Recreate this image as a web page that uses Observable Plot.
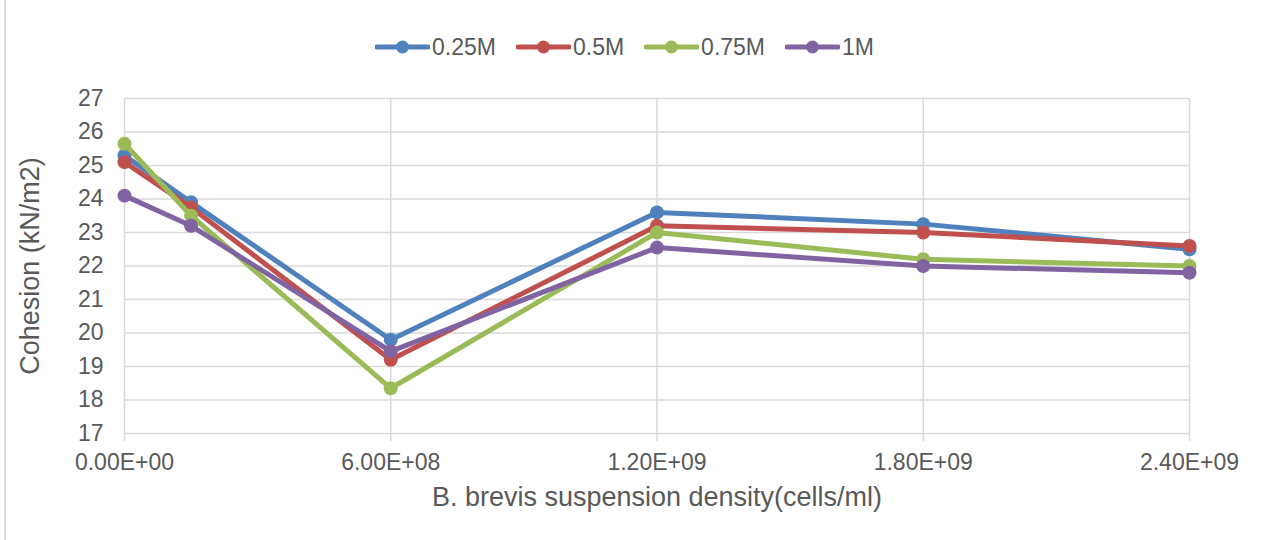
<!DOCTYPE html>
<html>
<head>
<meta charset="utf-8">
<script src="https://cdn.jsdelivr.net/npm/d3@7"></script>
<script src="https://cdn.jsdelivr.net/npm/@observablehq/plot@0.6"></script>
<style>
  body { margin: 0; background: #fff; font-family: "Liberation Sans", Arial, sans-serif; }
  #wrap { position: relative; width: 1261px; height: 540px; overflow: hidden; }
  #frame { position: absolute; left: 4px; top: 0; width: 2px; height: 540px; background: #d9d9d9; }
  #legend { height: 80px; display: flex; justify-content: center; align-items: center; gap: 20px; padding-top: 14px; padding-right: 12px; box-sizing: border-box; }
  .item { display: flex; align-items: center; gap: 2px; font-size: 23px; color: #595959; }
  #chart svg { display: block; overflow: visible; }
</style>
</head>
<body>
<div id="wrap">
  <div id="frame"></div>
  <div id="legend"></div>
  <div id="chart"></div>
</div>
<script>
const xValues = [0, 1.5e8, 6e8, 1.2e9, 1.8e9, 2.4e9];
const seriesNames = ["0.25M", "0.5M", "0.75M", "1M"];
const seriesColors = ["#4f81bd", "#c0504d", "#9bbb59", "#8064a2"];
const cohesion025 = [25.3, 23.9, 19.8, 23.6, 23.25, 22.5];
const cohesion05 = [25.1, 23.75, 19.2, 23.2, 23.0, 22.6];
const cohesion075 = [25.65, 23.5, 18.35, 23.0, 22.2, 22.0];
const cohesion1 = [24.1, 23.2, 19.45, 22.55, 22.0, 21.8];
const xTicks = [0, 6e8, 1.2e9, 1.8e9, 2.4e9];
const xTickLabels = ["0.00E+00", "6.00E+08", "1.20E+09", "1.80E+09", "2.40E+09"];
const yTicks = [17, 18, 19, 20, 21, 22, 23, 24, 25, 26, 27];
const xTitle = "B. brevis suspension density(cells/ml)";
const yTitle = "Cohesion (kN/m2)";

const allSeries = [cohesion025, cohesion05, cohesion075, cohesion1];
const data = [];
allSeries.forEach((vals, i) => vals.forEach((v, j) => data.push({series: seriesNames[i], x: xValues[j], y: v})));

// legend
const legend = document.getElementById("legend");
seriesNames.forEach((name, i) => {
  const item = document.createElement("div");
  item.className = "item";
  item.innerHTML = `<svg width="55" height="16"><line x1="2" y1="8" x2="53" y2="8" stroke="${seriesColors[i]}" stroke-width="5" stroke-linecap="round"/><circle cx="27.5" cy="8" r="6.5" fill="${seriesColors[i]}"/></svg><span>${name}</span>`;
  legend.appendChild(item);
});

const marks = [
  Plot.gridY(yTicks, {stroke: "#d9d9d9", strokeOpacity: 1, strokeWidth: 1.5}),
  Plot.gridX(xTicks, {stroke: "#d9d9d9", strokeOpacity: 1, strokeWidth: 1.5}),
  Plot.axisX(xTicks, {tickFormat: (d) => xTickLabels[xTicks.indexOf(d)], tickSize: 8, tickPadding: 12, stroke: "#d9d9d9", fill: "#595959", fontSize: 23, label: null, strokeWidth: 1.5}),
  Plot.axisY(yTicks, {tickSize: 0, tickPadding: 21, fill: "#595959", fontSize: 23, label: null}),
  Plot.text([yTitle], {text: d => d, frameAnchor: "left", textAnchor: "middle", dx: -94, rotate: -90, fontSize: 27, fill: "#595959"}),
  Plot.text([xTitle], {text: d => d, frameAnchor: "bottom", textAnchor: "middle", dy: 72, fontSize: 27, fill: "#595959"})
];
seriesNames.forEach((name, i) => {
  const d = data.filter(r => r.series === name);
  marks.push(Plot.line(d, {x: "x", y: "y", stroke: seriesColors[i], strokeWidth: 5}));
  marks.push(Plot.dot(d, {x: "x", y: "y", fill: seriesColors[i], r: 7}));
});

const chart = Plot.plot({
  width: 1261,
  height: 460,
  marginLeft: 124,
  marginRight: 72,
  marginTop: 18,
  marginBottom: 107,
  style: {fontFamily: "'Liberation Sans', Arial, sans-serif", background: "transparent", overflow: "visible"},
  x: {domain: [0, 2.4e9]},
  y: {domain: [17, 27]},
  marks
});
document.getElementById("chart").appendChild(chart);
</script>
</body>
</html>
